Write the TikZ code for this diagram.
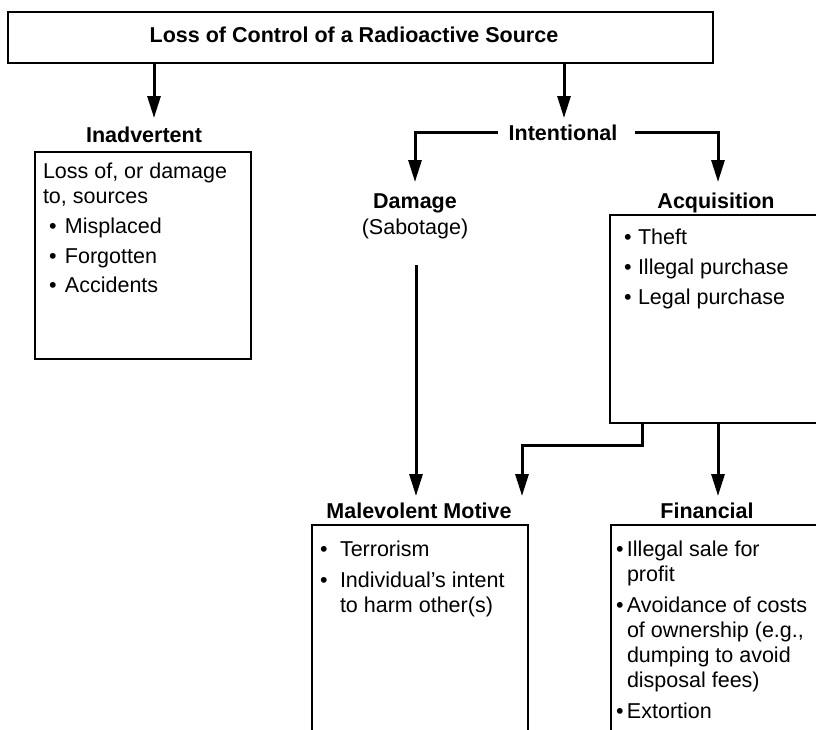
\documentclass[tikz,border=0pt]{standalone}
\usepackage{fontspec}
\setmainfont{Liberation Sans}
\usetikzlibrary{arrows.meta,calc}
\newcommand\mybul[1]{\makebox[#1][l]{\textbullet}}
\begin{document}
\begin{tikzpicture}[x=1pt,y=-1pt,
  every node/.style={inner sep=0pt, outer sep=0pt},
  frame/.style={draw, line width=2.3pt},
  edge3/.style={line width=2.3pt},
  conn/.style={line width=3pt, -{Triangle[length=22pt,width=13pt]}},
  lbl/.style={font=\fontsize{21.5}{25}\selectfont\bfseries, anchor=base},
  sub/.style={font=\fontsize{21.5}{25}\selectfont, anchor=base},
  body/.style={font=\fontsize{21.5}{25}\selectfont, anchor=base west}
]
\useasboundingbox (0,0) rectangle (816,729);

% boxes
\node[frame, minimum width=705pt, minimum height=51pt, anchor=north west] (top) at (8,12) {};
\node[lbl] (ttl) at (354,42) {Loss of Control of a Radioactive Source};

\node[frame, minimum width=216pt, minimum height=207pt, anchor=north west] (inbox) at (35,152) {};
\node[minimum width=206pt, minimum height=208pt, anchor=north west] (acq) at (610,215) {};
\draw[edge3] (acq.north east) -- (acq.north west) -- (acq.south west) -- (acq.south east);
\node[minimum width=216pt, minimum height=210pt, anchor=north west] (mal) at (312,525) {};
\draw[edge3] (mal.south west) -- (mal.north west) -- (mal.north east) -- (mal.south east);
\node[minimum width=205pt, minimum height=210pt, anchor=north west] (fin) at (611,525) {};
\draw[edge3] (fin.south west) -- (fin.north west) -- (fin.north east);

% labels
\node[lbl] (inadv) at (144,142) {Inadvertent};
\node[lbl] (int) at (563,140) {Intentional};
\node[lbl] (dmg) at (415,208) {Damage};
\node[sub] (sab) at (415,234) {(Sabotage)};
\node[lbl] (acql) at (716,208) {Acquisition};
\node[lbl] (mall) at (419,518) {Malevolent Motive};
\node[lbl] (finl) at (707,518) {Financial};

% box contents
\node[body] (intx) at (43,178) {\parbox[t]{210pt}{\raggedright
Loss of, or damage\\
to, sources\\[5pt]
\hspace*{6pt}\mybul{16pt}Misplaced\\[5pt]
\hspace*{6pt}\mybul{16pt}Forgotten\\[4pt]
\hspace*{6pt}\mybul{16pt}Accidents}};

\node[body] (acqtx) at (624,244) {\parbox[t]{190pt}{\raggedright
\mybul{14pt}Theft\\[5pt]
\mybul{14pt}Illegal purchase\\[5pt]
\mybul{14pt}Legal purchase}};

\node[body] (maltx) at (320,556) {\parbox[t]{205pt}{\raggedright
\mybul{20pt}Terrorism\\[6pt]
\mybul{20pt}Individual's intent\\
\hspace*{20pt}to harm other(s)}};

\node[body] (fintx) at (616,556) {\parbox[t]{200pt}{\raggedright
\mybul{11pt}Illegal sale for\\
\hspace*{11pt}profit\\[6pt]
\mybul{11pt}Avoidance of costs\\
\hspace*{11pt}of ownership (e.g.,\\
\hspace*{11pt}dumping to avoid\\
\hspace*{11pt}disposal fees)\\[6pt]
\mybul{11pt}Extortion}};

% connector end points
\coordinate (t1) at (154,118);
\coordinate (t2) at (564,118);
\coordinate (t3) at (415,182);
\coordinate (t4) at (718,182);
\coordinate (ds) at (416,265);
\coordinate (t5) at (416,496);
\coordinate (t6) at (522,496);
\coordinate (t7) at (718,496);

% connectors
\draw[conn] (top.south -| t1) -- (t1);
\draw[conn] (top.south -| t2) -- (t2);
\draw[conn] ([xshift=-11pt]int.west) -| (t3);
\draw[conn] ([xshift=18pt]int.east) -| (t4);
\draw[conn] (ds) -- (t5);
\draw[conn] ($(acq.south west)+(32,0)$) -- ++(0,22) -| (t6);
\draw[conn] (acq.south -| t7) -- (t7);
\end{tikzpicture}
\end{document}
